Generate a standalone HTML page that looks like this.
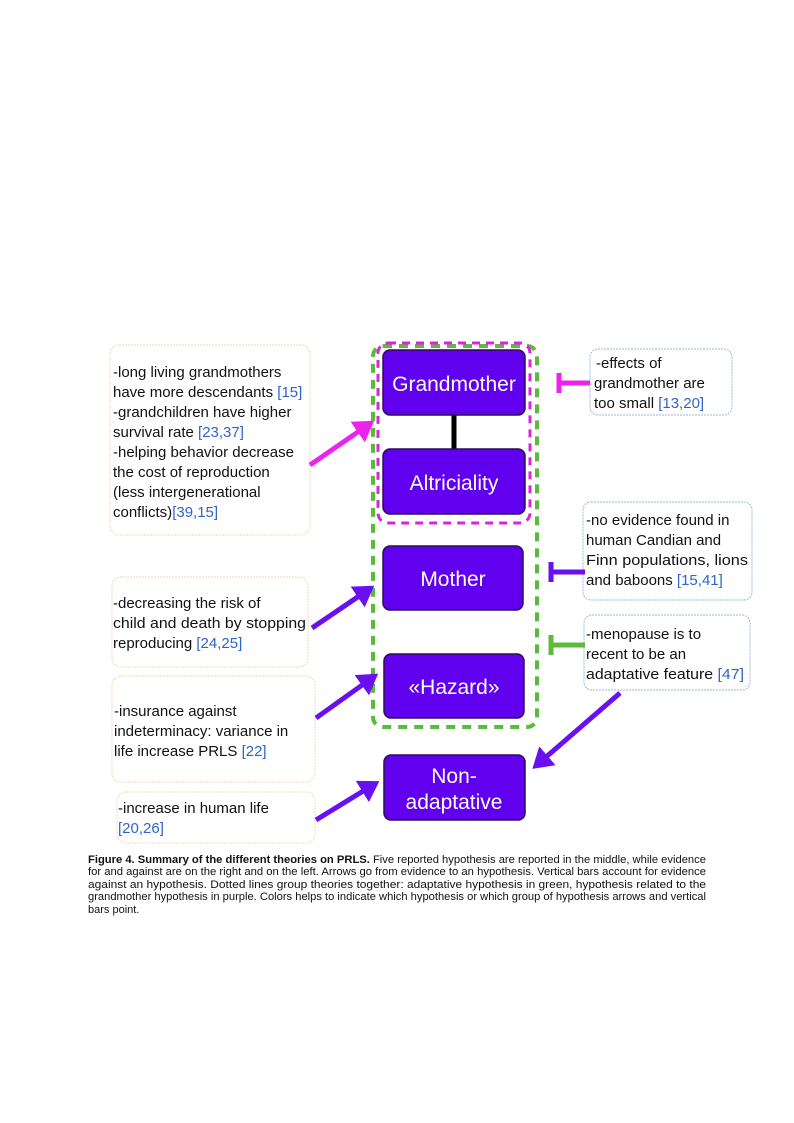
<!DOCTYPE html>
<html><head><meta charset="utf-8"><style>
html,body{margin:0;padding:0;background:#fff;}
svg{display:block;}
text{font-family:"Liberation Sans",sans-serif;}
.t{font-size:15px;fill:#111;}
.b{fill:#2f64c8;}
.n{font-size:21px;fill:#fff;text-anchor:middle;}
.c{font-size:11px;fill:#111;}
</style></head><body>
<svg width="794" height="1123" viewBox="0 0 794 1123" xmlns="http://www.w3.org/2000/svg">
<defs>
<marker id="am" markerWidth="5" markerHeight="5" refX="2.5" refY="2.5" orient="auto" markerUnits="strokeWidth"><path d="M0,0 L4,2.5 L0,5 z" fill="#ee22ee"/></marker>
<marker id="ap" markerWidth="5" markerHeight="5" refX="2.5" refY="2.5" orient="auto" markerUnits="strokeWidth"><path d="M0,0 L4,2.5 L0,5 z" fill="#6a10f0"/></marker>
</defs>
<g fill="#fff" stroke="#f2d9b8" stroke-width="1" stroke-dasharray="2,1">
<rect x="110" y="345" width="200" height="190" rx="9"/>
<rect x="112" y="577" width="196" height="90" rx="9"/>
<rect x="112" y="676" width="203" height="106" rx="9"/>
<rect x="117" y="792" width="198" height="51" rx="9"/>
</g>
<g fill="#fff" stroke="#9db6e0" stroke-width="1" stroke-dasharray="2,1">
<rect x="590" y="349" width="142" height="66" rx="8"/>
<rect x="583" y="502" width="169" height="98" rx="8"/>
<rect x="584" y="615" width="166" height="75" rx="8"/>
</g>
<g class="t">
<text x="113" y="377">-long living grandmothers</text>
<text x="113" y="397">have more descendants <tspan class="b">[15]</tspan></text>
<text x="113" y="417">-grandchildren have higher</text>
<text x="113" y="437">survival rate <tspan class="b">[23,37]</tspan></text>
<text x="113" y="457">-helping behavior decrease</text>
<text x="113" y="477">the cost of reproduction</text>
<text x="113" y="497">(less intergenerational</text>
<text x="113" y="517">conflicts)<tspan class="b">[39,15]</tspan></text>
<text x="113" y="608">-decreasing the risk of</text>
<text x="113" y="628" textLength="193" lengthAdjust="spacingAndGlyphs">child and death by stopping</text>
<text x="113" y="648">reproducing <tspan class="b">[24,25]</tspan></text>
<text x="114" y="716">-insurance against</text>
<text x="114" y="736">indeterminacy: variance in</text>
<text x="114" y="756">life increase PRLS <tspan class="b">[22]</tspan></text>
<text x="118" y="813">-increase in human life</text>
<text x="118" y="833" class="b">[20,26]</text>
<text x="596" y="368">-effects of</text>
<text x="594" y="388">grandmother are</text>
<text x="594" y="408">too small <tspan class="b">[13,20]</tspan></text>
<text x="586" y="525">-no evidence found in</text>
<text x="586" y="545">human Candian and</text>
<text x="586" y="565" textLength="162" lengthAdjust="spacingAndGlyphs">Finn populations, lions</text>
<text x="586" y="585">and baboons <tspan class="b">[15,41]</tspan></text>
<text x="586" y="639">-menopause is to</text>
<text x="586" y="659">recent to be an</text>
<text x="586" y="679" textLength="158" lengthAdjust="spacingAndGlyphs">adaptative feature <tspan class="b">[47]</tspan></text>
</g>
<rect x="373" y="346" width="164" height="381" rx="10" fill="none" stroke="#5cba3c" stroke-width="4" stroke-dasharray="9,7"/>
<rect x="378" y="343" width="152" height="180" rx="10" fill="none" stroke="#dd22dd" stroke-width="3" stroke-dasharray="8,6"/>
<line x1="454" y1="415" x2="454" y2="449" stroke="#000" stroke-width="5"/>
<g fill="#6000ee" stroke="#2a1050" stroke-width="1.5">
<rect x="383" y="350" width="142" height="65" rx="7"/>
<rect x="383" y="449" width="142" height="65" rx="7"/>
<rect x="383" y="546" width="140" height="64" rx="7"/>
<rect x="384" y="654" width="140" height="64" rx="7"/>
<rect x="384" y="755" width="141" height="65" rx="7"/>
</g>
<g class="n">
<text x="454" y="391">Grandmother</text>
<text x="454" y="490">Altriciality</text>
<text x="453" y="586">Mother</text>
<text x="454" y="694">«Hazard»</text>
<text x="454" y="783">Non-</text>
<text x="454" y="809">adaptative</text>
</g>
<line x1="310" y1="465" x2="368" y2="425" stroke="#ee22ee" stroke-width="5" marker-end="url(#am)"/>
<line x1="312" y1="628" x2="368" y2="590" stroke="#6a10f0" stroke-width="5" marker-end="url(#ap)"/>
<line x1="316" y1="718" x2="372" y2="678" stroke="#6a10f0" stroke-width="5" marker-end="url(#ap)"/>
<line x1="316" y1="820" x2="373" y2="785" stroke="#6a10f0" stroke-width="5" marker-end="url(#ap)"/>
<line x1="620" y1="693" x2="538" y2="764" stroke="#6a10f0" stroke-width="5" marker-end="url(#ap)"/>
<g stroke-width="5">
<line x1="559" y1="383" x2="590" y2="383" stroke="#ee22ee"/>
<line x1="559" y1="373" x2="559" y2="393" stroke="#ee22ee"/>
<line x1="551" y1="572" x2="585" y2="572" stroke="#6a10f0"/>
<line x1="551" y1="562" x2="551" y2="582" stroke="#6a10f0"/>
<line x1="551" y1="645" x2="585" y2="645" stroke="#5cba3c"/>
<line x1="551" y1="635" x2="551" y2="655" stroke="#5cba3c"/>
</g>
<g class="c">
<text x="88" y="863" textLength="618" lengthAdjust="spacingAndGlyphs"><tspan font-weight="bold">Figure 4. Summary of the different theories on PRLS.</tspan> Five reported hypothesis are reported in the middle, while evidence</text>
<text x="88" y="875" textLength="618" lengthAdjust="spacingAndGlyphs">for and against are on the right and on the left. Arrows go from evidence to an hypothesis. Vertical bars account for evidence</text>
<text x="88" y="888" textLength="618" lengthAdjust="spacingAndGlyphs">against an hypothesis. Dotted lines group theories together: adaptative hypothesis in green, hypothesis related to the</text>
<text x="88" y="900" textLength="618" lengthAdjust="spacingAndGlyphs">grandmother hypothesis in purple. Colors helps to indicate which hypothesis or which group of hypothesis arrows and vertical</text>
<text x="88" y="913">bars point.</text>
</g>
</svg>
</body></html>
